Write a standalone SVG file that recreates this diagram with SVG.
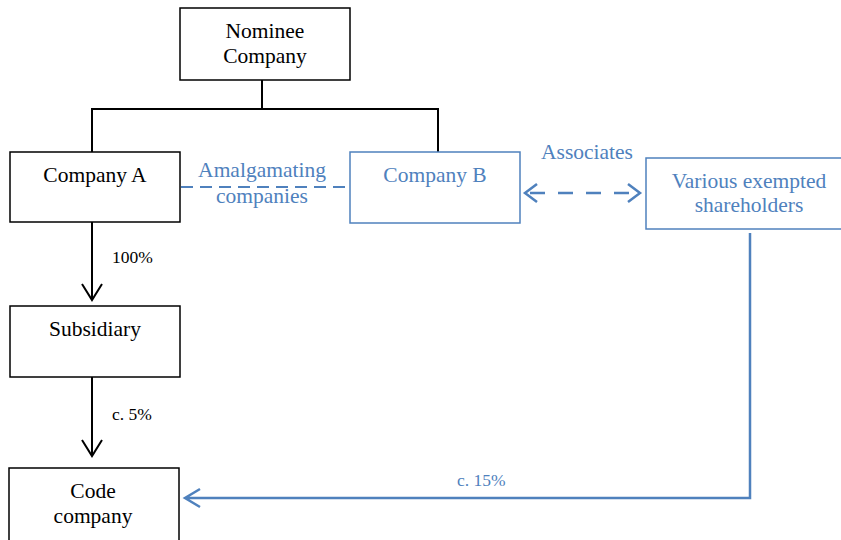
<svg xmlns="http://www.w3.org/2000/svg" width="841" height="540" viewBox="0 0 841 540">
<defs>
<style>
.box{fill:#fff;stroke:#000;stroke-width:1.5}
.bbox{fill:#fff;stroke:#4F81BD;stroke-width:1.5}
.t{font-family:"Liberation Serif","Times New Roman",serif;font-size:21.5px;fill:#000;text-anchor:middle}
.tb{font-family:"Liberation Serif","Times New Roman",serif;font-size:21.5px;fill:#4F81BD;text-anchor:middle}
.s{font-family:"Liberation Serif","Times New Roman",serif;font-size:17.5px;fill:#000}
.sb{font-family:"Liberation Serif","Times New Roman",serif;font-size:17.5px;fill:#4F81BD}
.k{fill:none;stroke:#000;stroke-width:2}
.bl{fill:none;stroke:#4F81BD;stroke-width:2.5}
.dash{fill:none;stroke:#4F81BD;stroke-width:2.5;stroke-dasharray:15 13}
.dash2{fill:none;stroke:#4F81BD;stroke-width:2;stroke-dasharray:12 7}
</style>
</defs>
<rect width="841" height="540" fill="#fff"/>
<g id="connectors">
<path class="k" d="M262,80 V109 M92,152 V109 H438 V152"/>
<path class="k" d="M92,222 V300 M82,284 L92,300 L102,284"/>
<path class="k" d="M92,377 V456 M82,440 L92,456 L102,440"/>
<path class="dash2" d="M181,187 H350"/>
<path class="dash" d="M530,193 H638"/>
<path class="bl" d="M537,184 L525,193 L537,202 M628,184 L640,193 L628,202"/>
<path class="bl" d="M750,233 V498 H186 M200,489 L185,498 L200,507"/>
<text class="tb" x="262" y="177">Amalgamating</text>
<text class="tb" x="262" y="203">companies</text>
<text class="tb" x="587" y="159">Associates</text>
<text class="s" x="112" y="263">100%</text>
<text class="s" x="112" y="420">c. 5%</text>
<text class="sb" x="457" y="486">c. 15%</text>
</g>
<g id="nominee">
<rect class="box" x="180" y="8" width="170" height="72"/>
<text class="t" x="265" y="38">Nominee</text>
<text class="t" x="265" y="63">Company</text>
</g>
<g id="companyA">
<rect class="box" x="10" y="152" width="170" height="70"/>
<text class="t" x="95" y="182">Company A</text>
</g>
<g id="companyB">
<rect class="bbox" x="350" y="152" width="170" height="71"/>
<text class="tb" x="435" y="182">Company B</text>
</g>
<g id="shareholders">
<rect class="bbox" x="646" y="158" width="210" height="71"/>
<text class="tb" x="749" y="188">Various exempted</text>
<text class="tb" x="749" y="212">shareholders</text>
</g>
<g id="subsidiary">
<rect class="box" x="10" y="306" width="170" height="71"/>
<text class="t" x="95" y="336">Subsidiary</text>
</g>
<g id="code">
<rect class="box" x="9" y="468" width="170" height="80"/>
<text class="t" x="93" y="498">Code</text>
<text class="t" x="93" y="523">company</text>
</g>
</svg>
